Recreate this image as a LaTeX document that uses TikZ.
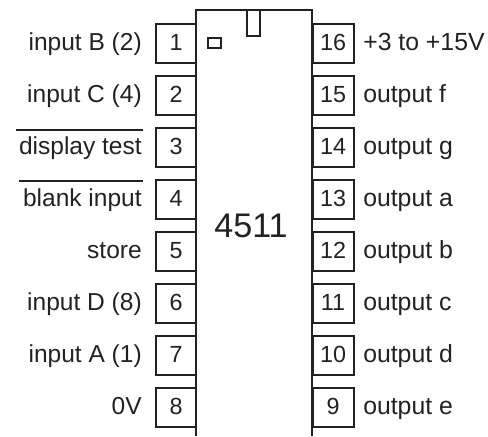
\documentclass[tikz,border=0pt]{standalone}
\usepackage{fontspec}
\setmainfont{Liberation Sans}
\definecolor{ink}{HTML}{222222}
\tikzset{x=0.75pt,y=-0.75pt,
  ln/.style={draw=ink,line width=1.5pt},
  pinbox/.style={ln,rectangle,minimum width=41*0.75pt,minimum height=39*0.75pt,inner sep=0pt,text=ink,text height=10.5pt,text depth=0pt,font=\fontsize{17.5}{20}\selectfont},
  lefttext/.style={anchor=base east,inner sep=0pt,text=ink,font=\fontsize{18.4}{20}\selectfont},
  righttext/.style={anchor=base west,inner sep=0pt,text=ink,font=\fontsize{18.6}{20}\selectfont},
  chiplabel/.style={inner sep=0pt,text=ink,font=\fontsize{25.6}{28}\selectfont}}
\begin{document}
\begin{tikzpicture}
\useasboundingbox (0,0) rectangle (488,436);
\coordinate (tl) at (196,10);
\coordinate (tr) at (312,10);
\coordinate (bl) at (196,436);
\coordinate (br) at (312,436);
\foreach \n/\l [count=\i from 0] in {1/input B (2),2/input C (4),3/display test,4/blank input,5/store,6/input D (8),7/input A (1),8/0V}{
  \node[pinbox] (p\n) at (176,{43+52*\i}) {\n};
  \node[lefttext] (l\n) at (142,{50+52*\i}) {\l};
}
\foreach \n/\l [count=\i from 0] in {16/+3 to +15V,15/output f,14/output g,13/output a,12/output b,11/output c,10/output d,9/output e}{
  \node[pinbox] (p\n) at (333,{43+52*\i}) {\n};
  \node[righttext] (l\n) at (363,{50+52*\i}) {\l};
}
\draw[ln,fill=white] (bl) -- (tl) -- (tr) -- (br);
\node[chiplabel] (chip) at (251,226) {4511};
\draw[ln] (247,10) -- (247,36) -- (260,36) -- (260,10);
\node[ln,rectangle,minimum width=10pt,minimum height=7pt,inner sep=0pt] (dot) at (214.5,43) {};
\coordinate (b3a) at (16,130); \coordinate (b3b) at (143,130);
\coordinate (b4a) at (19,181); \coordinate (b4b) at (143,181);
\draw[ln] (b3a) -- (b3b);
\draw[ln] (b4a) -- (b4b);
\end{tikzpicture}
\end{document}
